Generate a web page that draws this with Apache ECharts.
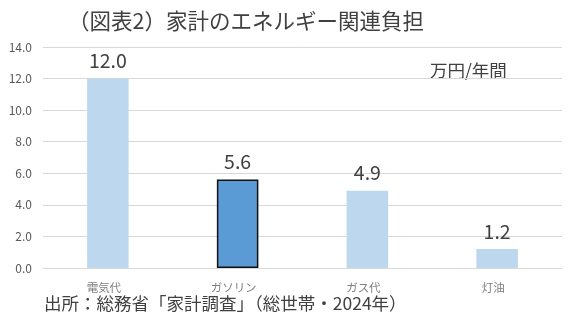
<!DOCTYPE html>
<html>
<head>
<meta charset="utf-8">
<script src="https://cdn.jsdelivr.net/npm/echarts@6/dist/echarts.min.js"></script>
<style>
  html, body { margin: 0; padding: 0; background: #fff; }
  #chart { width: 571px; height: 324px; }
</style>
</head>
<body>
<div id="chart"></div>
<script>
var categories = ['電気代', 'ガソリン', 'ガス代', '灯油'];
var values = [12.0, 5.6, 4.9, 1.2];
var highlight = [false, true, false, false];
var yTicks = [0, 2, 4, 6, 8, 10, 12, 14];

var font = '"Noto Sans CJK JP", "Noto Sans", sans-serif';

var chart = echarts.init(document.getElementById('chart'));

var barData = values.map(function(v, i) {
    if (highlight[i]) {
        return {
            value: v,
            itemStyle: { color: '#5B9BD5', borderColor: '#111', borderWidth: 1.5 }
        };
    }
    return { value: v, itemStyle: { color: '#BDD7EE' } };
});

chart.setOption({
    animation: false,
    textStyle: { fontFamily: font },
    title: {
        text: '（図表2）家計のエネルギー関連負担',
        left: 68,
        top: 10,
        padding: 0,
        textStyle: { fontSize: 21.5, fontWeight: 'normal', color: '#404040', fontFamily: font }
    },
    grid: { left: 43, right: 9, top: 47, bottom: 56 },
    xAxis: {
        type: 'category',
        data: categories,
        axisLine: { show: true, lineStyle: { color: '#d9d9d9', width: 1 } },
        axisTick: { show: false },
        axisLabel: { color: '#7f7f7f', fontSize: 11.5, margin: 14, padding: [0, 8, 0, 0], fontFamily: font }
    },
    yAxis: {
        type: 'value',
        min: yTicks[0],
        max: yTicks[yTicks.length - 1],
        interval: 2,
        axisLine: { show: false },
        axisTick: { show: false },
        axisLabel: {
            color: '#595959', fontSize: 12, margin: 11, fontFamily: font,
            formatter: function(v) { return v.toFixed(1); }
        },
        splitLine: { lineStyle: { color: '#d9d9d9', width: 1 } }
    },
    series: [{
        type: 'bar',
        data: barData,
        barWidth: '32%',
        label: {
            show: true,
            position: 'top',
            distance: 8,
            color: '#404040',
            fontSize: 19.5,
            fontFamily: font,
            formatter: function(p) { return p.value.toFixed(1); }
        }
    }],
    graphic: [{
        type: 'text',
        left: 430,
        top: 62,
        style: { text: '万円/年間', fontSize: 17.5, fill: '#404040', fontFamily: font }
    }, {
        type: 'text',
        left: 44,
        top: 295,
        style: { text: '出所：総務省「家計調査」（総世帯・2024年）', fontSize: 17.5, fill: '#404040', fontFamily: font }
    }]
});
</script>
</body>
</html>
